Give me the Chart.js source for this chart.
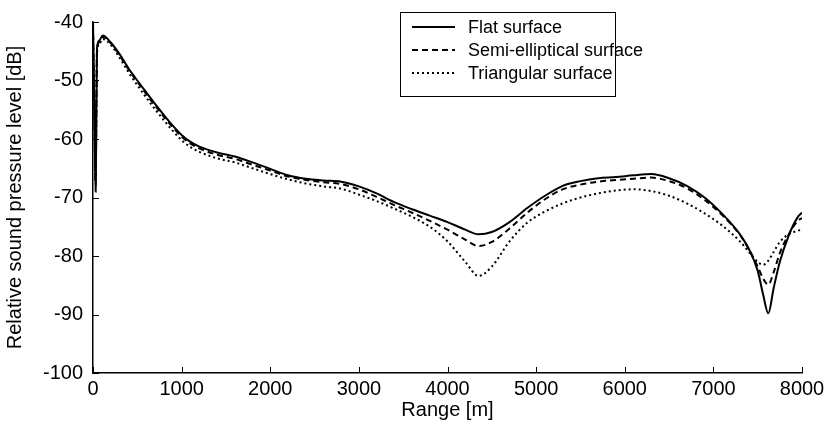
<!DOCTYPE html>
<html>
<head>
<meta charset="utf-8">
<script src="https://cdn.jsdelivr.net/npm/chart.js@4"></script>
<style>
  html, body { margin: 0; padding: 0; background: #fff; }
  #wrap { width: 832px; height: 434px; }
</style>
</head>
<body>
<div id="wrap"><canvas id="chartRange"></canvas></div>
<script>
// range along the track [m]
const rangeM = [0, 15, 30, 38, 45, 70, 110, 200, 300, 400, 500, 600, 700, 800, 900,
  1000, 1100, 1200, 1400, 1600, 1800, 2000, 2200, 2400, 2600, 2800, 3000, 3200, 3400,
  3600, 3800, 4000, 4200, 4350, 4500, 4700, 4900, 5100, 5300, 5500, 5700, 5900, 6100,
  6300, 6500, 6700, 6900, 7100, 7300, 7400, 7500, 7560, 7620, 7680, 7750, 7850, 7950, 8000];

// relative sound pressure level [dB]
const flatSpl = [-40, -55, -69, -56, -44.5, -43.2, -42.3, -43.5, -45.5, -47.9, -50, -52, -54, -55.9, -57.7,
  -59.3, -60.5, -61.3, -62.3, -63, -64, -65.1, -66.2, -66.8, -67.1, -67.3, -68.1, -69.3, -70.8,
  -72, -73.1, -74.2, -75.5, -76.3, -75.9, -74.2, -71.8, -69.7, -68, -67.2, -66.7, -66.5, -66.2,
  -66, -66.7, -68, -70, -72.8, -76.3, -78.8, -82.5, -86.5, -89.8, -85.5, -81, -76.5, -73.4, -72.6];

const semiSpl = [-40.5, -55, -68, -55, -45, -43.4, -42.5, -43.6, -45.7, -48.1, -50.2, -52.3, -54.3, -56.2, -58,
  -59.6, -60.8, -61.6, -62.7, -63.4, -64.4, -65.4, -66.4, -67, -67.4, -67.7, -68.6, -69.9, -71.3,
  -72.6, -74, -75.5, -77.2, -78.3, -77.6, -75.3, -72.6, -70.3, -68.6, -67.8, -67.3, -67, -66.8,
  -66.6, -67.2, -68.4, -70.4, -73, -76.4, -78.8, -81.8, -83.8, -84.9, -82.8, -79.5, -76.3, -74, -73.5];

const triSpl = [-41, -55, -67, -55, -45.5, -43.8, -42.9, -43.9, -46.1, -48.6, -50.8, -52.9, -54.9, -56.8, -58.6,
  -60.2, -61.4, -62.2, -63.3, -64, -65, -66, -66.9, -67.6, -68.1, -68.5, -69.5, -70.6, -71.9,
  -73.3, -75, -77.5, -81, -83.4, -81.8, -77.5, -74.3, -72.4, -71, -70, -69.3, -68.8, -68.6,
  -68.9, -69.7, -71, -72.7, -74.8, -77.5, -79.3, -81, -81.5, -80.8, -79.3, -77.6, -76.3, -75.7, -75.5];

const seriesNames = ['Flat surface', 'Semi-elliptical surface', 'Triangular surface'];
const xTicks = [0, 1000, 2000, 3000, 4000, 5000, 6000, 7000, 8000];
const yTicks = [-100, -90, -80, -70, -60, -50, -40];

const FONT = '"Liberation Sans", Arial, sans-serif';
const toPoints = vals => rangeM.map((r, i) => ({ x: r, y: vals[i] }));

// tick marks pointing into the plot, matlab style
const innerTicks = {
  id: 'innerTicks',
  afterDatasetsDraw(chart) {
    const { ctx, chartArea, scales } = chart;
    ctx.save();
    ctx.strokeStyle = '#000';
    ctx.lineWidth = 1;
    xTicks.forEach(v => {
      const px = Math.round(scales.x.getPixelForValue(v)) + 0.5;
      ctx.beginPath();
      ctx.moveTo(px, chartArea.bottom);
      ctx.lineTo(px, chartArea.bottom - 6);
      ctx.stroke();
    });
    yTicks.forEach(v => {
      const py = Math.round(scales.y.getPixelForValue(v)) + 0.5;
      ctx.beginPath();
      ctx.moveTo(chartArea.left, py);
      ctx.lineTo(chartArea.left + 6, py);
      ctx.stroke();
    });
    ctx.restore();
  }
};

// boxed legend in the upper middle
const boxLegend = {
  id: 'boxLegend',
  afterDraw(chart) {
    const ctx = chart.ctx;
    const x0 = 400, y0 = 12, w = 215, h = 84;
    ctx.save();
    ctx.fillStyle = '#fff';
    ctx.fillRect(x0, y0, w, h);
    ctx.strokeStyle = '#000';
    ctx.lineWidth = 1;
    ctx.strokeRect(x0 + 0.5, y0 + 0.5, w, h);
    ctx.font = '18px ' + FONT;
    ctx.textBaseline = 'middle';
    chart.data.datasets.forEach((ds, i) => {
      const yy = 27 + i * 23;
      ctx.strokeStyle = '#000';
      ctx.lineWidth = ds.borderWidth;
      ctx.setLineDash(ds.borderDash || []);
      ctx.beginPath();
      ctx.moveTo(412, yy);
      ctx.lineTo(455, yy);
      ctx.stroke();
      ctx.setLineDash([]);
      ctx.fillStyle = '#000';
      ctx.fillText(ds.label, 468, yy + 1);
    });
    ctx.restore();
  }
};

const ctxRange = document.getElementById('chartRange').getContext('2d');
const chartRange = new Chart(ctxRange, {
  type: 'line',
  data: {
    datasets: [{
      label: seriesNames[0],
      data: toPoints(flatSpl),
      borderColor: '#000',
      borderWidth: 2,
      pointRadius: 0,
      cubicInterpolationMode: 'monotone'
    }, {
      label: seriesNames[1],
      data: toPoints(semiSpl),
      borderColor: '#000',
      borderWidth: 2,
      borderDash: [6, 4],
      pointRadius: 0,
      cubicInterpolationMode: 'monotone'
    }, {
      label: seriesNames[2],
      data: toPoints(triSpl),
      borderColor: '#000',
      borderWidth: 2,
      borderDash: [2, 3],
      pointRadius: 0,
      cubicInterpolationMode: 'monotone'
    }]
  },
  options: {
    responsive: true,
    maintainAspectRatio: false,
    animation: false,
    layout: { padding: { top: 20, right: 30, left: 0, bottom: 0 } },
    plugins: {
      legend: { display: false },
      tooltip: { enabled: false }
    },
    scales: {
      x: {
        type: 'linear',
        min: 0,
        max: 8000,
        afterFit: s => { s.height = 61; },
        afterBuildTicks: s => { s.ticks = xTicks.map(v => ({ value: v })); },
        grid: { display: true, drawOnChartArea: false, drawTicks: false },
        border: { display: true, color: '#000', width: 1.5 },
        ticks: { color: '#000', font: { family: FONT, size: 20 }, padding: 4, maxRotation: 0, callback: v => String(v) },
        title: { display: true, text: 'Range [m]', color: '#000', font: { family: FONT, size: 20 }, padding: { top: 0, bottom: 12 } }
      },
      y: {
        min: -100,
        max: -40,
        afterFit: s => { s.width = 93; },
        afterBuildTicks: s => { s.ticks = yTicks.map(v => ({ value: v })); },
        grid: { display: true, drawOnChartArea: false, drawTicks: false },
        border: { display: true, color: '#000', width: 1.5 },
        ticks: { color: '#000', font: { family: FONT, size: 20 }, padding: 10, callback: v => String(v) },
        title: { display: true, text: 'Relative sound pressure level [dB]', color: '#000', font: { family: FONT, size: 20 }, padding: { top: 3, bottom: 4 } }
      }
    }
  },
  plugins: [innerTicks, boxLegend]
});
</script>
</body>
</html>
